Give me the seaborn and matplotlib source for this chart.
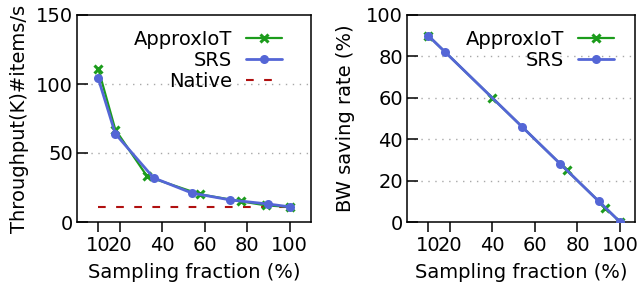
import matplotlib
matplotlib.use("Agg")
import matplotlib.pyplot as plt
import seaborn as sns
import pandas as pd

# ---- data ----
tp_approx_x = [10, 18, 33, 58, 77, 89, 100]
tp_approx_y = [111, 67, 33, 20, 15, 12, 11]
tp_srs_x = [10, 18, 36, 54, 72, 90, 100]
tp_srs_y = [104, 64, 32, 21, 16, 13, 11]
tp_native_x = [10, 100]
tp_native_y = [11, 11]

bw_approx_x = [10, 40, 75, 93, 100]
bw_approx_y = [90, 60, 25, 7, 0]
bw_srs_x = [10, 18, 54, 72, 90, 100]
bw_srs_y = [90, 82, 46, 28, 10, 0]

x_ticks = [10, 20, 40, 60, 80, 100]
tp_yticks = [0, 50, 100, 150]
bw_yticks = [0, 20, 40, 60, 80, 100]

GREEN = "#1c9c1c"
BLUE = "#5466d6"
RED = "#b01010"

sns.set_style("white")
plt.rcParams["font.family"] = ["DejaVu Sans"]
plt.rcParams["text.color"] = "black"
plt.rcParams["axes.labelcolor"] = "black"
plt.rcParams["xtick.color"] = "black"
plt.rcParams["ytick.color"] = "black"
FS = 14

fig = plt.figure(figsize=(6.42, 2.89), dpi=100)
ax1 = fig.add_axes([77 / 642, 67 / 289, 234 / 642, 207 / 289])
ax2 = fig.add_axes([407 / 642, 67 / 289, 228 / 642, 207 / 289])


def style(ax, yticks, ylim, xlim, ylabel, ylpad):
    ax.set_xlim(*xlim)
    ax.set_ylim(*ylim)
    ax.set_xticks(x_ticks)
    ax.set_yticks(yticks)
    ax.tick_params(axis="x", direction="out", length=7, width=1.1, pad=3,
                   labelsize=FS, bottom=True, top=False, colors="black")
    ax.tick_params(axis="y", direction="in", length=8, width=1.1, pad=3,
                   labelsize=FS, left=True, right=False, colors="black")
    for s in ax.spines.values():
        s.set_visible(True)
        s.set_color("black")
        s.set_linewidth(1.1)
    for yv in yticks:
        if ylim[0] < yv < ylim[1]:
            ax.axhline(yv, color="#a8a8a8", lw=1.0, ls=(0, (1, 4)), zorder=0)
    ax.set_xlabel("Sampling fraction (%)", fontsize=FS, labelpad=6)
    ax.set_ylabel(ylabel, fontsize=FS, labelpad=ylpad)


# left: throughput
df_a = pd.DataFrame({"x": tp_approx_x, "y": tp_approx_y})
df_s = pd.DataFrame({"x": tp_srs_x, "y": tp_srs_y})
df_n = pd.DataFrame({"x": tp_native_x, "y": tp_native_y})
sns.lineplot(data=df_a, x="x", y="y", ax=ax1, color=GREEN, lw=1.6,
             marker="x", markersize=6, markeredgewidth=2.2, markeredgecolor=GREEN,
             label="ApproxIoT", zorder=3)
sns.lineplot(data=df_s, x="x", y="y", ax=ax1, color=BLUE, lw=2.0,
             marker="o", markersize=6.5, markeredgewidth=0, markerfacecolor=BLUE,
             label="SRS", zorder=4)
sns.lineplot(data=df_n, x="x", y="y", ax=ax1, color=RED, lw=1.5,
             label="Native", zorder=2)
ax1.lines[-1].set_dashes([3.7, 5])
style(ax1, tp_yticks, (0, 150), (0, 110), "Throughput(K)#items/s", 5)
leg1 = ax1.legend(loc="upper right", bbox_to_anchor=(0.919, 0.974), frameon=False,
                  markerfirst=False, fontsize=FS, borderpad=0, handlelength=1.85,
                  handletextpad=0.72, labelspacing=0.1)

# right: bandwidth saving
df_a2 = pd.DataFrame({"x": bw_approx_x, "y": bw_approx_y})
df_s2 = pd.DataFrame({"x": bw_srs_x, "y": bw_srs_y})
sns.lineplot(data=df_a2, x="x", y="y", ax=ax2, color=GREEN, lw=1.6,
             marker="x", markersize=6, markeredgewidth=2.2, markeredgecolor=GREEN,
             label="ApproxIoT", zorder=3)
sns.lineplot(data=df_s2, x="x", y="y", ax=ax2, color=BLUE, lw=2.0,
             marker="o", markersize=6.5, markeredgewidth=0, markerfacecolor=BLUE,
             label="SRS", zorder=4)
style(ax2, bw_yticks, (0, 100), (0, 107), "BW saving rate (%)", 8)
leg2 = ax2.legend(loc="upper right", bbox_to_anchor=(0.952, 0.974), frameon=False,
                  markerfirst=False, fontsize=FS, borderpad=0, handlelength=1.85,
                  handletextpad=0.72, labelspacing=0.1)

fig.savefig("out.png", dpi=100)
